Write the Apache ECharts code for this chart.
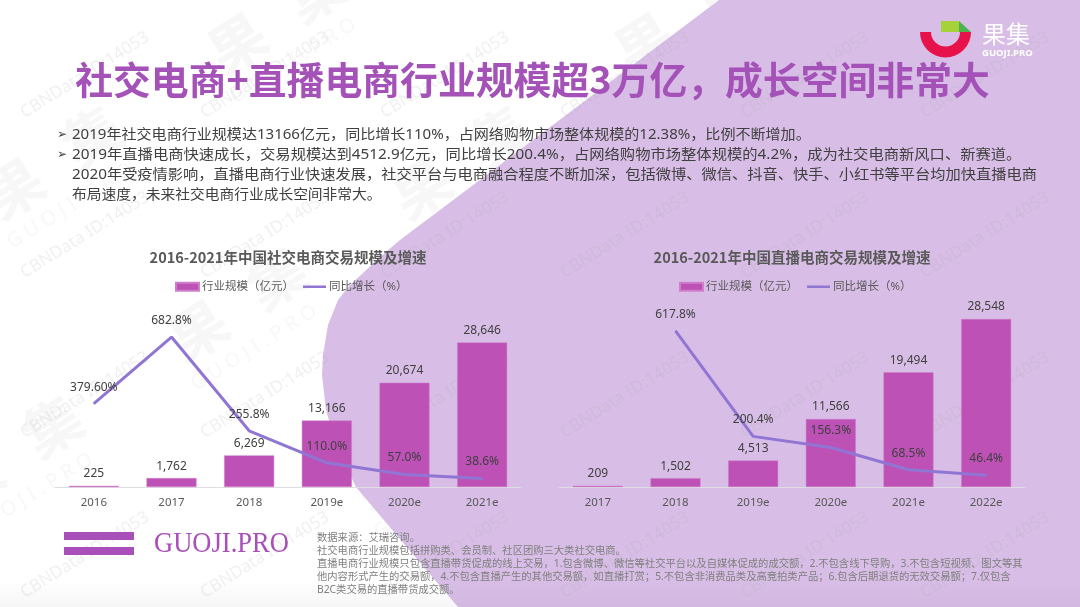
<!DOCTYPE html>
<html>
<head>
<meta charset="utf-8">
<style>
html, body { margin: 0; padding: 0; background: #fff; }
#main { width: 1080px; height: 607px; }
</style>
<script src="https://cdn.jsdelivr.net/npm/echarts@6/dist/echarts.min.js"></script>
</head>
<body>
<div id="main"></div>
<script>
'use strict';
const FONT = '"Noto Sans", "Noto Sans CJK SC", sans-serif';

const socialYears = ['2016', '2017', '2018', '2019e', '2020e', '2021e'];
const socialScale = [225, 1762, 6269, 13166, 20674, 28646];
const socialGrowth = [379.6, 682.8, 255.8, 110.0, 57.0, 38.6];
const socialGrowthLabels = ['379.60%', '682.8%', '255.8%', '110.0%', '57.0%', '38.6%'];

const liveYears = ['2017', '2018', '2019e', '2020e', '2021e', '2022e'];
const liveScale = [209, 1502, 4513, 11566, 19494, 28548];
const liveGrowth = [null, 617.8, 200.4, 156.3, 68.5, 46.4];
const liveGrowthLabels = ['', '617.8%', '200.4%', '156.3%', '68.5%', '46.4%'];

const mainTitle = '社交电商+直播电商行业规模超3万亿，成长空间非常大';
const socialTitle = '2016-2021年中国社交电商交易规模及增速';
const liveTitle = '2016-2021年中国直播电商交易规模及增速';
const barName = '行业规模（亿元）';
const lineName = '同比增长（%）';

const bodyLines = [
    '2019年社交电商行业规模达13166亿元，同比增长110%，占网络购物市场整体规模的12.38%，比例不断增加。',
    '2019年直播电商快速成长，交易规模达到4512.9亿元，同比增长200.4%，占网络购物市场整体规模的4.2%，成为社交电商新风口、新赛道。',
    '2020年受疫情影响，直播电商行业快速发展，社交平台与电商融合程度不断加深，包括微博、微信、抖音、快手、小红书等平台均加快直播电商',
    '布局速度，未来社交电商行业成长空间非常大。'
];
const bodyStretch = [1.075, 1.093, 1.089, 1.053];
const noteLines = [
    '数据来源：艾瑞咨询。',
    '社交电商行业规模包括拼购类、会员制、社区团购三大类社交电商。',
    '直播电商行业规模只包含直播带货促成的线上交易，1.包含微博、微信等社交平台以及自媒体促成的成交额，2.不包含线下导购，3.不包含短视频、图文等其',
    '他内容形式产生的交易额，4.不包含直播产生的其他交易额，如直播打赏；5.不包含非消费品类及高竞拍类产品；6.包含后期退货的无效交易额；7.仅包含',
    'B2C类交易的直播带货成交额。'
];

// 背景、水印、logo
function text(x, y, str, size, color, extra) {
    return Object.assign({
        type: 'text', x: x, y: y, z: 5,
        style: Object.assign({
            text: str, fontSize: size, fontFamily: FONT, fill: color,
            textAlign: 'left', textVerticalAlign: 'middle'
        }, extra && extra.style)
    }, extra && extra.el);
}

function watermarks() {
    const list = [];
    const rot = 32 * Math.PI / 180;
    [75, 235, 395, 555].forEach(y => {
        [85, 265, 445, 625, 805, 985].forEach(x => {
            list.push(text(x, y, 'CBNData ID:14053', 17, 'rgba(170,170,170,0.18)', {
                el: { rotation: rot, z: -5 }, style: { textAlign: 'center' }
            }));
        });
    });
    // 果集水印压在紫色背景之下
    [[240, 48], [647, 48], [17, 193], [424, 193], [201, 335], [-23, 483], [384, 483]].forEach(p => {
        const mk = (x, y, s, size, w) => text(x, y, s, size, 'rgba(170,170,170,0.09)', {
            el: { rotation: rot, z: -12 }, style: { textAlign: 'center', fontWeight: w }
        });
        list.push(mk(p[0], p[1], '果', 58, 'bold'));
        list.push(mk(p[0] + 78, p[1] - 52, '集', 58, 'bold'));
        list.push(mk(p[0] + 53, p[1] + 13, 'G U O J I . P R O', 20, 'normal'));
    });
    return list;
}

const graphics = [
    {
        type: 'polygon', z: -10,
        shape: {
            points: [[719, 0], [1080, 0], [1080, 607], [458, 607], [388, 525], [356, 487], [343, 460], [333, 435],
                [326, 410], [322, 375], [323, 355], [328, 325], [338, 300], [349, 286], [363, 273], [380, 257], [400, 240]]
        },
        style: { fill: '#d8bee6' }
    },
    {
        type: 'rect', z: -9, shape: { x: 0, y: 580, width: 1080, height: 27 },
        style: {
            fill: new echarts.graphic.LinearGradient(0, 0, 0, 1, [
                { offset: 0, color: 'rgba(120,100,130,0)' },
                { offset: 1, color: 'rgba(120,100,130,0.06)' }
            ])
        }
    }
].concat(watermarks(), [
    // 果集 logo
    { type: 'sector', z: 5, shape: { cx: 945.5, cy: 32, r: 25.5, r0: 14.5, startAngle: 0, endAngle: Math.PI }, style: { fill: '#e8124a' } },
    { type: 'rect', z: 5, shape: { x: 941, y: 21, width: 18, height: 11 }, style: { fill: '#a6d139' } },
    { type: 'polygon', z: 5, shape: { points: [[959, 21], [971, 32], [959, 32]] }, style: { fill: '#4db24f' } },
    text(982, 34, '果集', 24, '#fff', { style: { fontFamily: '"Noto Sans CJK SC"' } }),
    text(982, 53, 'GUOJI.PRO', 9.5, '#fff', { style: { fontWeight: 'bold' } }),
    // 底部 logo
    { type: 'rect', z: 5, shape: { x: 64, y: 532, width: 70, height: 8 }, style: { fill: '#a94fb9' } },
    { type: 'rect', z: 5, shape: { x: 64, y: 547, width: 70, height: 8 }, style: { fill: '#a94fb9' } },
    text(154, 544, 'GUOJI.PRO', 29, '#a94fb9', { el: { scaleX: 0.915 }, style: { fontFamily: '"Liberation Serif"' } }),
    // 正文箭头
    text(57, 135, '➢', 12, '#404040', { style: { fontFamily: '"DejaVu Sans"' } }),
    text(57, 155, '➢', 12, '#404040', { style: { fontFamily: '"DejaVu Sans"' } })
]);

bodyLines.forEach((s, i) => {
    graphics.push(text(72, 135 + i * 20, s, 14, '#404040', { el: { scaleX: bodyStretch[i] } }));
});
noteLines.forEach((s, i) => {
    graphics.push(text(317, 538 + i * 13, s, 10.3, '#7f7f7f'));
});

// 柱 + 折线
function barSeries(idx, values) {
    return {
        type: 'bar', name: barName, xAxisIndex: idx, yAxisIndex: idx * 2, data: values,
        barWidth: 50, z: 2,
        itemStyle: { color: '#bd51b6', borderColor: '#cf7fca', borderWidth: 0.5 },
        label: {
            show: true, position: 'top', distance: 6, color: '#404040', fontSize: 12, fontFamily: FONT,
            formatter: p => p.value.toLocaleString('en-US')
        }
    };
}

function lineSeries(idx, values, labels) {
    return {
        type: 'line', name: lineName, xAxisIndex: idx, yAxisIndex: idx * 2 + 1, data: values,
        symbol: 'circle', symbolSize: 1, showAllSymbol: true, z: 3, connectNulls: false,
        lineStyle: { color: '#9175d3', width: 3 },
        itemStyle: { color: '#9175d3' },
        label: {
            show: true, position: 'top', distance: 10, color: '#404040', fontSize: 12, fontFamily: FONT,
            formatter: p => labels[p.dataIndex]
        }
    };
}

function catAxis(idx, data) {
    return {
        type: 'category', gridIndex: idx, data: data,
        axisLine: { lineStyle: { color: '#e0dde2', width: 1 } },
        axisTick: { show: false },
        axisLabel: { color: '#595959', fontSize: 11.5, fontFamily: FONT, margin: 10 }
    };
}

function valAxis(idx, max) {
    return { type: 'value', gridIndex: idx, min: 0, max: max, show: false, splitLine: { show: false } };
}

// 折线图例只要一条线，两端的小点撑满图标高度
const lineIcon = 'path://M0,0h0.01v0.01h-0.01z M0,2.75h24v2.5h-24z M0,8h0.01v-0.01h-0.01z';

function legend(left) {
    return {
        left: left, top: 281, padding: 0, itemWidth: 23, itemHeight: 8, itemGap: 9,
        textStyle: { color: '#595959', fontSize: 11.5, fontFamily: FONT, padding: [0, 0, 0, -2] },
        data: [{ name: barName, icon: 'rect' }, { name: lineName, icon: lineIcon }]
    };
}

function chartTitle(text, left, top, size, color) {
    return {
        text: text, left: left, top: top, textAlign: 'center', padding: 0,
        textStyle: { fontSize: size, fontWeight: 'bold', color: color, fontFamily: '"Noto Sans CJK SC", sans-serif' }
    };
}

const option = {
    animation: false,
    backgroundColor: '#fff',
    title: [
        chartTitle(mainTitle, 532.5, 61, 37.85, '#a452b8'),
        chartTitle(socialTitle, 288, 250, 14.5, '#595959'),
        chartTitle(liveTitle, 792, 250, 14.5, '#595959')
    ],
    legend: [legend(175), legend(679)],
    grid: [
        { left: 55, width: 466, top: 290, height: 197 },
        { left: 559, width: 466, top: 290, height: 197 }
    ],
    xAxis: [catAxis(0, socialYears), catAxis(1, liveYears)],
    yAxis: [valAxis(0, 39054), valAxis(0, 897), valAxis(1, 33476), valAxis(1, 780)],
    series: [
        barSeries(0, socialScale),
        barSeries(1, liveScale),
        lineSeries(0, socialGrowth, socialGrowthLabels),
        lineSeries(1, liveGrowth, liveGrowthLabels)
    ],
    graphic: { elements: graphics }
};

const myChart = echarts.init(document.getElementById('main'), null, { renderer: 'canvas' });
myChart.setOption(option);
</script>
</body>
</html>
